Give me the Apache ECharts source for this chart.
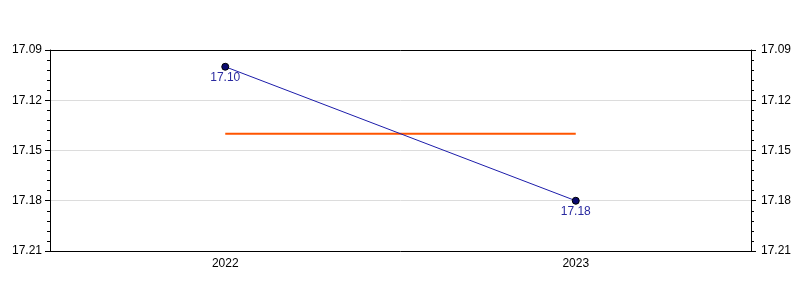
<!DOCTYPE html>
<html><head><meta charset="utf-8">
<script src="https://cdn.jsdelivr.net/npm/echarts@6/dist/echarts.min.js"></script>
<style>html,body{margin:0;padding:0;background:#fff}#c{width:800px;height:300px}</style>
</head><body><div id="c"></div>
<script>
const categories = ['2022', '2023'];
const values = [17.10, 17.18];
const averageValues = [17.14, 17.14];
const yMin = 17.09, yMax = 17.21, yStep = 0.03;

const chart = echarts.init(document.getElementById('c'), null, {renderer: 'canvas'});
const font = 'Liberation Sans, Arial, sans-serif';
const yAxisCommon = {
  type: 'value', inverse: true, min: yMin, max: yMax, interval: yStep,
  axisLine: {show: true, lineStyle: {color: '#000', width: 1}},
  axisTick: {show: true, length: 5, lineStyle: {color: '#000'}},
  minorTick: {show: true, splitNumber: 5, length: 3, lineStyle: {color: '#000'}},
  axisLabel: {color: '#000', fontSize: 12, fontFamily: font, formatter: v => v.toFixed(2)},
};
chart.setOption({
  animation: false,
  grid: {left: 50, right: 49, top: 50, bottom: 49},
  xAxis: [
    {
      type: 'category', data: categories, boundaryGap: true, position: 'bottom',
      axisLine: {lineStyle: {color: '#000'}},
      axisTick: {alignWithLabel: true, length: 5, lineStyle: {color: '#000'}},
      axisLabel: {color: '#000', fontSize: 12, fontFamily: font, margin: 7},
      splitLine: {show: false}
    },
    {
      type: 'category', data: categories, boundaryGap: true, position: 'top',
      axisLine: {show: true, lineStyle: {color: '#000'}},
      axisTick: {show: false}, axisLabel: {show: false}, splitLine: {show: false}
    }
  ],
  yAxis: [
    Object.assign({}, yAxisCommon, {position: 'left',
      axisLabel: Object.assign({}, yAxisCommon.axisLabel, {margin: 8}),
      splitLine: {show: true, lineStyle: {color: '#dcdcdc', width: 1}}}),
    Object.assign({}, yAxisCommon, {position: 'right',
      axisLabel: Object.assign({}, yAxisCommon.axisLabel, {margin: 10}),
      splitLine: {show: false}})
  ],
  series: [
    {
      type: 'line', data: averageValues, symbol: 'none', silent: true,
      lineStyle: {color: '#ff5500', width: 2}, z: 1
    },
    {
      type: 'line', data: values, symbol: 'circle', symbolSize: 7,
      lineStyle: {color: '#1c1caa', width: 1},
      itemStyle: {color: '#0a0a70', borderColor: '#000', borderWidth: 1},
      label: {show: true, position: 'bottom', distance: 1, color: '#2a2aa0', fontSize: 12,
        fontFamily: font, formatter: p => p.value.toFixed(2)},
      z: 3
    }
  ]
});
</script></body></html>
